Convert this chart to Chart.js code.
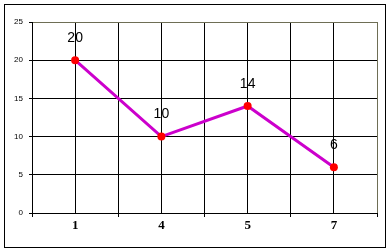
<!DOCTYPE html>
<html>
<head>
<meta charset="utf-8">
<script src="https://cdn.jsdelivr.net/npm/chart.js@4"></script>
<style>
  html, body { margin: 0; padding: 0; background: #fff; }
  #wrap { position: relative; width: 390px; height: 252px; }
  #frame { position: absolute; left: 4px; top: 4px; width: 380px; height: 242px; border: 1px solid #000; pointer-events: none; }
  canvas { position: absolute; left: 0; top: 0; }
</style>
</head>
<body>
<div id="wrap">
  <canvas id="chart" width="390" height="252"></canvas>
  <div id="frame"></div>
</div>
<script>
// data
const categories = ["1", "4", "5", "7"];
const seriesValues = [20, 10, 14, 6];
const yTicks = [0, 5, 10, 15, 20, 25];

// every category takes two grid cells, the point sits in the middle one
const points = seriesValues.map((v, i) => ({ x: i * 2 + 1, y: v }));

const edgeColor = "#6e6e55";

const pointLabels = {
  id: "pointLabels",
  afterDatasetsDraw(chart) {
    const ctx = chart.ctx;
    const meta = chart.getDatasetMeta(0);
    ctx.save();
    ctx.font = "14px 'Liberation Sans', Arial, sans-serif";
    ctx.fillStyle = "#000";
    ctx.textAlign = "center";
    ctx.textBaseline = "middle";
    meta.data.forEach((pt, i) => {
      ctx.fillText(String(seriesValues[i]), pt.x, pt.y - 22);
    });
    ctx.restore();
  },
};

new Chart(document.getElementById("chart"), {
  type: "line",
  data: {
    datasets: [
      {
        data: points,
        borderColor: "#cc00cc",
        borderWidth: 3,
        backgroundColor: "#ff0000",
        pointBackgroundColor: "#ff0000",
        pointBorderColor: "#ff0000",
        pointRadius: 4,
        pointBorderWidth: 0,
        tension: 0,
        fill: false,
      },
    ],
  },
  options: {
    responsive: false,
    animation: false,
    events: [],
    layout: { padding: { left: 0, top: 22, right: 13, bottom: 0 } },
    plugins: {
      legend: { display: false },
      tooltip: { enabled: false },
    },
    scales: {
      x: {
        type: "linear",
        min: 0,
        max: categories.length * 2,
        afterFit: (scale) => { scale.height = 39; },
        afterBuildTicks: (scale) => {
          scale.ticks = [];
          for (let v = 0; v <= categories.length * 2; v++) scale.ticks.push({ value: v });
        },
        border: { display: true, color: "#000", width: 1 },
        grid: {
          color: (c) => (c.tick && c.tick.value === categories.length * 2 ? edgeColor : "#000"),
          lineWidth: 1,
          drawTicks: true,
          tickLength: 4,
          tickColor: (c) => (c.tick && c.tick.value % 2 === 0 ? "#000" : "rgba(0,0,0,0)"),
        },
        ticks: {
          autoSkip: false,
          maxRotation: 0,
          padding: 1,
          color: "#000",
          font: { family: "'Liberation Serif', 'Times New Roman', serif", size: 13, weight: "bold" },
          callback: (v) => (v % 2 === 1 ? categories[(v - 1) / 2] : ""),
        },
      },
      y: {
        type: "linear",
        min: yTicks[0],
        max: yTicks[yTicks.length - 1],
        afterFit: (scale) => { scale.width = 32; },
        afterBuildTicks: (scale) => { scale.ticks = yTicks.map((v) => ({ value: v })); },
        border: { display: true, color: "#000", width: 1 },
        grid: {
          color: (c) => (c.tick && c.tick.value === yTicks[yTicks.length - 1] ? edgeColor : "#000"),
          lineWidth: 1,
          drawTicks: true,
          tickLength: 3,
          tickColor: "#000",
        },
        ticks: {
          padding: 6,
          color: "#000",
          font: { family: "'Liberation Sans', Arial, sans-serif", size: 8 },
        },
      },
    },
  },
  plugins: [pointLabels],
});
</script>
</body>
</html>
